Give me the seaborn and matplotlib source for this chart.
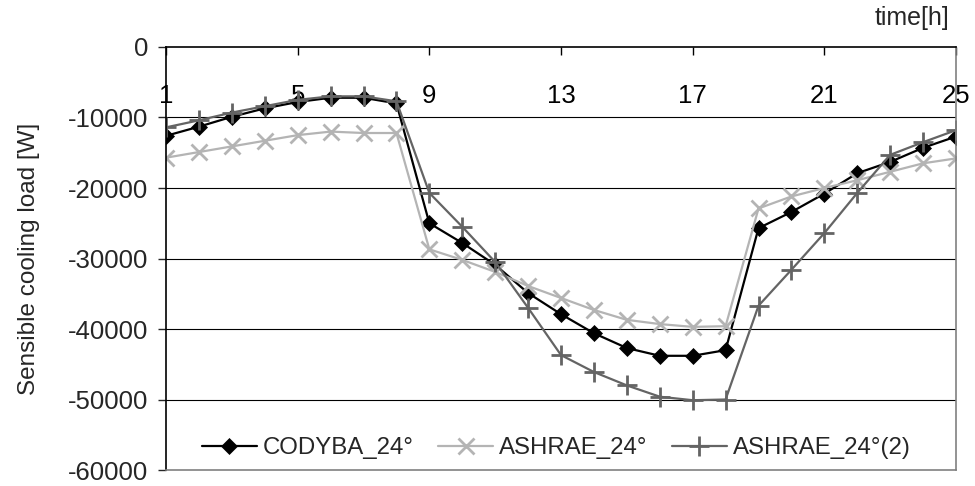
import pandas as pd
import numpy as np
import matplotlib.pyplot as plt
import seaborn as sns

hours = list(range(1, 26))

codyba = [-12600, -11300, -9900, -8700, -7800, -7200, -7200, -8000,
          -25000, -27800, -30900, -34900, -37900, -40600, -42700, -43800,
          -43800, -43000, -25700, -23400, -20800, -17900, -16300, -14300, -12700]

ashrae = [-15700, -14900, -14100, -13300, -12500, -12000, -12200, -12200,
          -28700, -30200, -31900, -33900, -35600, -37300, -38700, -39300,
          -39700, -39600, -22900, -21200, -20000, -18900, -17700, -16500, -15800]

ashrae2 = [-11400, -10400, -9300, -8400, -7500, -7000, -7000, -7700,
           -20700, -25500, -30500, -37000, -43700, -46100, -48000, -49600,
           -50100, -50000, -36700, -31600, -26400, -20700, -15300, -13500, -11800]

series_names = ['CODYBA_24°', 'ASHRAE_24°', 'ASHRAE_24°(2)']

df = pd.DataFrame({'time': hours, series_names[0]: codyba,
                   series_names[1]: ashrae, series_names[2]: ashrae2})

sns.set_style('white')
plt.rcParams['font.family'] = ['Liberation Sans', 'DejaVu Sans']
plt.rcParams['axes.unicode_minus'] = False

fig = plt.figure(figsize=(9.75, 4.86), dpi=100)
ax = fig.add_axes([0.1703, 0.0329, 0.8102, 0.8704])

# colour, marker, marker size, marker edge width
styles = {
    'CODYBA_24°': ('black', 'D', 8.5, 0.5),
    'ASHRAE_24°': ('#b4b4b4', 'x', 11, 2.0),
    'ASHRAE_24°(2)': ('#646464', '+', 14, 2.0),
}

for name in series_names:
    col, mk, ms, mew = styles[name]
    sns.lineplot(x='time', y=name, data=df, ax=ax, color=col, marker=mk,
                 markersize=ms, markeredgewidth=mew, markeredgecolor=col,
                 linewidth=1.6, label=name)

ax.set_xlim(1, 25)
ax.set_ylim(-60000, 0)
ax.set_yticks(np.arange(-60000, 1, 10000))
ax.set_xticks([1, 5, 9, 13, 17, 21, 25])

for yv in range(-50000, 0, 10000):
    ax.axhline(yv, color='black', linewidth=0.8, zorder=0)

ax.xaxis.tick_top()
ax.tick_params(axis='x', direction='in', length=6, width=1, pad=-44,
               labelsize=18.5, colors='black')
ax.tick_params(axis='y', direction='out', length=6, width=1, pad=7,
               labelsize=18.5, left=True)

ax.spines['top'].set_color('black')
ax.spines['left'].set_color('black')
ax.spines['right'].set_color('#808080')
ax.spines['bottom'].set_color('#808080')
for s in ax.spines.values():
    s.set_linewidth(1.2)

ax.set_xlabel('')
ax.set_ylabel('Sensible cooling load [W]', fontsize=17.5)
ax.yaxis.set_label_coords(-0.16, 0.5)

fig.text(0.974, 0.962, 'time[h]', ha='right', va='center', fontsize=18)

ax.legend(loc='center', bbox_to_anchor=(0.494, 0.052), ncol=3, frameon=False,
          fontsize=17.3, handlelength=2.3, handletextpad=0.25, columnspacing=1.0)

fig.savefig('out.png', dpi=100)
